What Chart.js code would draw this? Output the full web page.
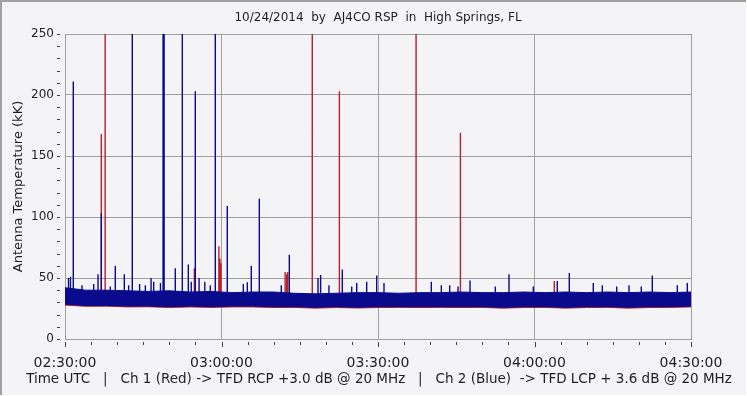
<!DOCTYPE html>
<html><head><meta charset="utf-8">
<script src="https://cdn.jsdelivr.net/npm/chart.js@4"></script>
<style>html,body{margin:0;padding:0;background:#f4f4f7;overflow:hidden}#wrap{width:747px;height:396px;position:relative}</style>
</head><body><div id="wrap"><canvas id="c" width="747" height="396"></canvas></div>
<script>
const chartTitle = '10/24/2014  by  AJ4CO RSP  in  High Springs, FL';
const yAxisTitle = 'Antenna Temperature (kK)';
const xAxisCaption = 'Time UTC   |   Ch 1 (Red) -> TFD RCP +3.0 dB @ 20 MHz   |   Ch 2 (Blue)  -> TFD LCP + 3.6 dB @ 20 MHz';
const timeTickLabels = ['02:30:00', '03:00:00', '03:30:00', '04:00:00', '04:30:00'];

// minutes after 02:30 UTC
const bandMinutes = [0,4,8,12,16,20,24,28,32,36,40,44,48,52,56,60,64,68,72,76,80,84,88,92,96,100,104,108,112,116,120];
const blueUpper = [42,40,40,39.5,39,39.5,38.5,39,38,38.5,38.5,37.5,37,37.5,38,38,37.5,38,38,38.5,38,38,38.5,38,38.5,38,38.5,38,38.5,38,38.5];
const blueLower = [28.5,27.5,27.5,27,27,26.5,27,26.5,27,27,26.5,26.5,26,26.5,26,26.5,26.5,26.5,26.5,26.5,26.5,26,26.5,26.5,26,26.5,26.5,26,26.5,26.5,27];
const redUpper = [38,37,37,36,36,36,35.5,36,35,35.5,35,35,34.5,35,35,35,35,35,35,35.5,35,35,35,35,35.5,35,35,35,35,35,35.5];
const redLower = [27.8,26.8,26.9,26.3,26.4,25.8,26.3,25.9,26.3,26.3,25.8,25.9,25.3,25.8,25.4,25.8,25.9,25.8,25.9,25.8,25.9,25.3,25.8,25.9,25.3,25.8,25.9,25.3,25.8,25.9,26.3];

const blueSpikeMinutes = [0.67,1.05,1.59,3.26,5.5,6.33,6.96,8.68,9.64,11.37,12.2,12.9,14.3,15.4,16.5,17.0,18.3,18.8,19.0,21.14,22.49,23.64,24.2,24.98,25.7,26.8,27.85,28.81,31.11,34.18,34.95,35.71,37.25,41.46,43.0,48.5,49.0,50.6,53.16,54.96,55.92,57.83,59.75,61.15,70.22,72.14,73.74,75.34,77.64,82.49,85.11,89.77,94.37,96.67,101.27,103.0,105.76,108.12,110.47,112.58,117.37,119.29];
const blueSpikeValues  = [50,51,211,44,45,53,103,43,60,53,44,250,45,44,50,47,46,250,250,58,250,61,47,203,50,47,44,250,109,45,46.5,60,115,44,69,50,52.5,44,57,43,46,47,52,46,47,44,44,43,48,43,53,43,47.5,54,46,44,43,44,43,52,44,46];
const redSpikeMinutes = [6.96,7.7,24.8,29.5,29.7,29.9,42.2,42.5,42.7,47.4,52.6,67.3,75.8,93.8];
const redSpikeValues  = [168,250,58,76,66,62,55,53,55,250,203,250,169,47.5];

const BLUE = '#0a0a8c';
const RED = '#b4202c';
const GRID = '#a0a0a0';
const TEXT = '#1e1e1e';
const FONT = 'DejaVu Sans';

function band(ys) { return bandMinutes.map((m, i) => ({x: m, y: ys[i]})); }
function spikes(ms, vs, base) {
  const out = [];
  ms.forEach((m, i) => { out.push({x: m, y: base}, {x: m, y: vs[i]}, {x: m, y: null}); });
  return out;
}

const decor = {
  id: 'decor',
  beforeDraw(chart) {
    const ctx = chart.ctx;
    ctx.save();
    ctx.fillStyle = '#f4f4f7';
    ctx.fillRect(0, 0, chart.width, chart.height);
    ctx.restore();
  },
  afterDraw(chart) {
    const ctx = chart.ctx, xs = chart.scales.x, ys = chart.scales.y, a = chart.chartArea;
    ctx.save();
    ctx.strokeStyle = '#404040';
    ctx.lineWidth = 1;
    ctx.beginPath();
    for (let v = 0; v <= 250; v += 10) {
      const y = Math.round(ys.getPixelForValue(v)) + 0.5;
      ctx.moveTo(a.left - 8, y); ctx.lineTo(a.left - 5, y);
    }
    for (let m = 0; m <= 120; m += 5) {
      const x = Math.round(xs.getPixelForValue(m)) + 0.5;
      const major = m % 30 === 0;
      ctx.moveTo(x, a.bottom + 3); ctx.lineTo(x, a.bottom + (major ? 8 : 6));
    }
    ctx.stroke();
    // caption under the time axis
    ctx.fillStyle = TEXT;
    ctx.font = '13.5px "' + FONT + '"';
    ctx.textAlign = 'center';
    ctx.textBaseline = 'middle';
    ctx.fillText(xAxisCaption, (a.left + a.right) / 2 + 1, 379);
    // outer frame
    ctx.fillStyle = '#a0a0a0';
    ctx.fillRect(0, 0, chart.width, 2);
    ctx.fillRect(0, 0, 2, chart.height);
    ctx.fillStyle = '#ffffff';
    ctx.fillRect(chart.width - 1, 0, 1, chart.height);
    ctx.fillRect(0, chart.height - 1, chart.width, 1);
    ctx.restore();
  }
};

new Chart(document.getElementById('c'), {
  type: 'line',
  data: {
    datasets: [
      {label: 'blueSpikes', data: spikes(blueSpikeMinutes, blueSpikeValues, 36), borderColor: BLUE, borderWidth: 1.4, pointRadius: 0, spanGaps: false, order: 0},
      {label: 'blueHigh', data: band(blueUpper), borderColor: BLUE, backgroundColor: BLUE, borderWidth: 1, pointRadius: 0, fill: {target: 2}, order: 1},
      {label: 'blueLow', data: band(blueLower), borderColor: BLUE, borderWidth: 1, pointRadius: 0, fill: false, order: 1},
      {label: 'redSpikes', data: spikes(redSpikeMinutes, redSpikeValues, 34), borderColor: RED, borderWidth: 1.4, pointRadius: 0, spanGaps: false, order: 2},
      {label: 'redHigh', data: band(redUpper), borderColor: RED, backgroundColor: RED, borderWidth: 1, pointRadius: 0, fill: {target: 5}, order: 3},
      {label: 'redLow', data: band(redLower), borderColor: RED, borderWidth: 1, pointRadius: 0, fill: false, order: 3}
    ]
  },
  options: {
    responsive: false,
    animation: false,
    devicePixelRatio: 1,
    layout: {padding: {left: 0, right: 56, top: 0, bottom: 0}},
    plugins: {
      legend: {display: false},
      tooltip: {enabled: false},
      title: {display: true, fullSize: false, text: chartTitle, color: TEXT, font: {family: FONT, size: 12, weight: 'normal'}, padding: {top: 11, bottom: 8.6}}
    },
    scales: {
      x: {
        type: 'linear', min: 0, max: 120,
        afterFit: s => { s.height = 57; },
        ticks: {stepSize: 30, autoSkip: false, maxRotation: 0, padding: 16, color: TEXT, font: {family: FONT, size: 14},
          callback: v => timeTickLabels[Math.round(v / 30)]},
        grid: {color: GRID, drawTicks: false, lineWidth: 1},
        border: {display: true, color: GRID},
        title: {display: false}
      },
      y: {
        min: 0, max: 250,
        afterFit: s => { s.width = 65; },
        ticks: {stepSize: 10, autoSkip: false, padding: 11, color: TEXT, font: {family: FONT, size: 12},
          callback: v => (v % 50 === 0 ? String(v) : '')},
        grid: {drawTicks: false, lineWidth: 1, color: c => (c.tick && c.tick.value % 50 === 0 ? GRID : 'rgba(0,0,0,0)')},
        border: {display: true, color: GRID},
        title: {display: true, text: yAxisTitle, color: TEXT, font: {family: FONT, size: 13}, padding: {top: 11, bottom: 0}}
      }
    }
  },
  plugins: [decor]
});
</script>
</body></html>
